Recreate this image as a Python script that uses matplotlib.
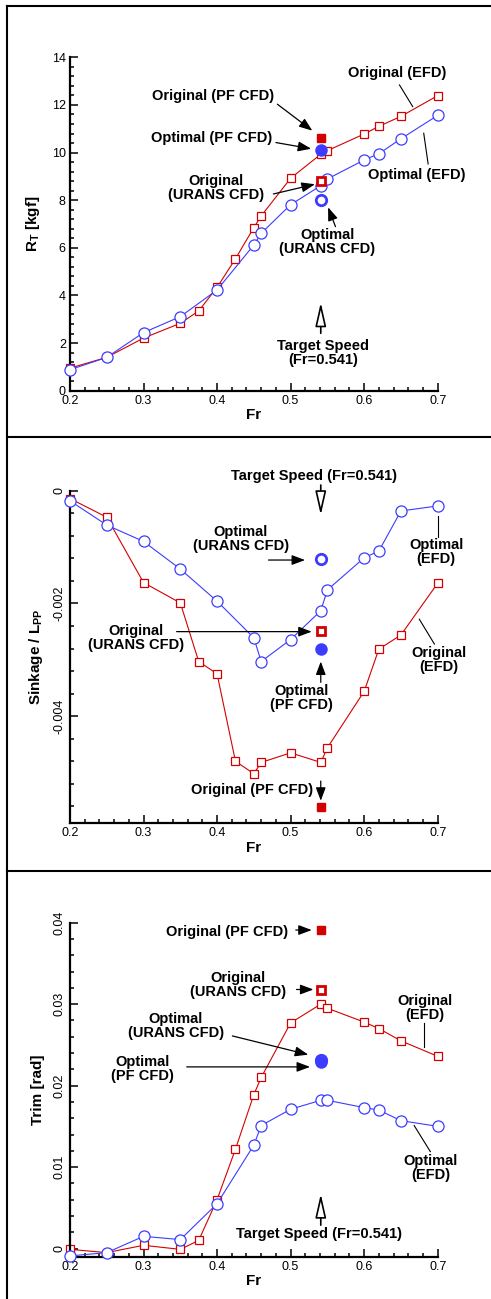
import numpy as np
import matplotlib
matplotlib.use('Agg')
from matplotlib import pyplot as plt
from matplotlib.lines import Line2D
from matplotlib.ticker import MultipleLocator, FixedLocator

plt.rcParams['font.family'] = ['Liberation Sans', 'DejaVu Sans']
plt.rcParams['mathtext.fontset'] = 'custom'
plt.rcParams['mathtext.rm'] = 'Liberation Sans'
plt.rcParams['mathtext.bf'] = 'Liberation Sans:bold'

# %% data
fr_orig = [0.2, 0.25, 0.3, 0.35, 0.375, 0.4, 0.425, 0.45, 0.46, 0.5, 0.541, 0.55, 0.6, 0.62, 0.65, 0.7]
fr_opt = [0.2, 0.25, 0.3, 0.35, 0.4, 0.45, 0.46, 0.5, 0.541, 0.55, 0.6, 0.62, 0.65, 0.7]
fr_target = 0.541

rt_orig = [0.95, 1.40, 2.21, 2.83, 3.35, 4.34, 5.54, 6.85, 7.34, 8.92, 9.93, 10.08, 10.78, 11.10, 11.52, 12.39]
rt_opt = [0.88, 1.40, 2.44, 3.11, 4.23, 6.12, 6.61, 7.81, 8.61, 8.89, 9.69, 9.95, 10.58, 11.56]
rt_cfd = {'orig_pf': 10.60, 'opt_pf': 10.11, 'orig_urans': 8.81, 'opt_urans': 7.99}

sink_orig = [-0.00014, -0.00047, -0.00163, -0.00199, -0.00303, -0.00325, -0.00480, -0.00502,
             -0.00482, -0.00465, -0.00482, -0.00456, -0.00356, -0.00281, -0.00256, -0.00164]
sink_opt = [-0.00018, -0.00061, -0.00090, -0.00139, -0.00196, -0.00261, -0.00303, -0.00264,
            -0.00213, -0.00176, -0.00119, -0.00107, -0.00036, -0.00027]
sink_cfd = {'orig_pf': -0.00561, 'opt_pf': -0.00281, 'orig_urans': -0.00249, 'opt_urans': -0.00122}

trim_orig = [-0.0001, -0.0005, 0.0004, -0.0001, 0.0010, 0.0060, 0.0122, 0.0189, 0.0210, 0.0277,
             0.0300, 0.0295, 0.0278, 0.0270, 0.0255, 0.0236]
trim_opt = [-0.0009, -0.0005, 0.0015, 0.0011, 0.0055, 0.0127, 0.0151, 0.0171, 0.0182, 0.0182,
            0.0173, 0.0170, 0.0157, 0.0150]
trim_cfd = {'orig_pf': 0.0391, 'opt_pf': 0.0229, 'orig_urans': 0.0318, 'opt_urans': 0.0232}

RED = '#d40000'
BLUE = '#3c3cff'
W, H = 491, 1299

fig = plt.figure(figsize=(W / 100, H / 100), dpi=100)


def make_ax(top_px, bot_px):
    left, right = 70, 437.7
    ax = fig.add_axes([left / W, 1 - bot_px / H, (right - left) / W, (bot_px - top_px) / H])
    for s in ['top', 'right']:
        ax.spines[s].set_visible(False)
    for s in ['left', 'bottom']:
        ax.spines[s].set_linewidth(1.6)
    ax.tick_params(which='both', direction='in', width=1.1, labelsize=9, pad=3)
    ax.tick_params(which='major', length=5.5)
    ax.tick_params(which='minor', length=3)
    ax.set_xlim(0.2, 0.7)
    ax.xaxis.set_minor_locator(MultipleLocator(0.02))
    ax.set_xticks([0.2, 0.3, 0.4, 0.5, 0.6, 0.7])
    ax.set_xticklabels(['0.2', '0.3', '0.4', '0.5', '0.6', '0.7'])
    ax.set_xlabel('Fr', fontsize=11, fontweight='bold', labelpad=1)
    return ax


def plot_series(ax, y_orig, y_opt, cfd):
    ax.plot(fr_opt, y_opt, '-o', color=BLUE, lw=0.8, ms=8, mfc='white', mec=BLUE, mew=0.9,
            clip_on=False, zorder=3)
    ax.plot(fr_orig, y_orig, '-s', color=RED, lw=0.8, ms=5.6, mfc='white', mec=RED, mew=0.9,
            clip_on=False, zorder=2)
    ax.plot([fr_target], [cfd['orig_urans']], 's', ms=6, mfc='white', mec=RED, mew=2, zorder=5, clip_on=False)
    ax.plot([fr_target], [cfd['opt_urans']], 'o', ms=7.5, mfc='none', mec=BLUE, mew=2, zorder=5, clip_on=False)
    ax.plot([fr_target], [cfd['orig_pf']], 's', ms=6.3, mfc=RED, mec=RED, zorder=5, clip_on=False)
    ax.plot([fr_target], [cfd['opt_pf']], 'o', ms=8, mfc=BLUE, mec=BLUE, zorder=5, clip_on=False)


def label(ax, s, x, y):
    ax.text(x, y, s, ha='center', va='center', fontsize=10.5, fontweight='bold',
            linespacing=1.0, clip_on=False)


def arrow(ax, tail, head):
    ax.annotate('', xy=head, xytext=tail, annotation_clip=False,
                arrowprops=dict(arrowstyle='-|>,head_length=0.8,head_width=0.3', fc='black',
                                ec='black', lw=0.9, shrinkA=0, shrinkB=0, mutation_scale=10))


def leader(ax, p0, p1):
    ax.plot([p0[0], p1[0]], [p0[1], p1[1]], color='black', lw=0.8, clip_on=False)


def hollow_arrow(ax, tail, head):
    ax.annotate('', xy=head, xytext=tail, annotation_clip=False,
                arrowprops=dict(arrowstyle='-|>,head_length=1.45,head_width=0.33', fc='white',
                                ec='black', lw=1.2, shrinkA=0, shrinkB=0, mutation_scale=10))


# %% R_T
ax1 = make_ax(57.3, 390.7)
plot_series(ax1, rt_orig, rt_opt, rt_cfd)
ax1.set_ylim(0, 14)
ax1.yaxis.set_major_locator(MultipleLocator(2))
ax1.yaxis.set_minor_locator(MultipleLocator(0.4))
ax1.set_ylabel(r'R$_\mathbf{T}$ [kgf]', fontsize=11, fontweight='bold', labelpad=7)

label(ax1, 'Original (EFD)', 0.645, 13.36)
leader(ax1, (0.648, 12.84), (0.666, 11.93))
label(ax1, 'Original (PF CFD)', 0.395, 12.38)
arrow(ax1, (0.482, 12.03), (0.5295, 10.92))
label(ax1, 'Optimal (PF CFD)', 0.392, 10.6)
arrow(ax1, (0.480, 10.42), (0.528, 10.16))
label(ax1, 'Original\n(URANS CFD)', 0.3985, 8.5)
arrow(ax1, (0.4765, 8.26), (0.533, 8.67))
label(ax1, 'Optimal (EFD)', 0.671, 9.06)
leader(ax1, (0.681, 10.81), (0.687, 9.52))
label(ax1, 'Optimal\n(URANS CFD)', 0.550, 6.26)
arrow(ax1, (0.561, 6.89), (0.551, 7.70))
hollow_arrow(ax1, (fr_target, 2.41), (fr_target, 3.7))
label(ax1, 'Target Speed\n(Fr=0.541)', 0.5445, 1.57)

# %% sinkage
ax2 = make_ax(490.7, 823.3)
plot_series(ax2, sink_orig, sink_opt, sink_cfd)
ax2.set_ylim(-0.0059, 0)
ax2.yaxis.set_major_locator(FixedLocator([0, -0.002, -0.004]))
ax2.set_yticklabels(['0', '-0.002', '-0.004'], rotation=90, va='center')
ax2.yaxis.set_minor_locator(MultipleLocator(0.0004))
ax2.set_ylabel(r'Sinkage / L$_\mathbf{PP}$', fontsize=11, fontweight='bold', labelpad=6)

label(ax2, 'Target Speed (Fr=0.541)', 0.532, 0.00026)
hollow_arrow(ax2, (fr_target, 0.0001), (fr_target, -0.00043))
label(ax2, 'Optimal\n(URANS CFD)', 0.432, -0.000855)
arrow(ax2, (0.470, -0.00123), (0.5196, -0.00123))
label(ax2, 'Optimal\n(EFD)', 0.698, -0.00108)
leader(ax2, (0.701, -0.00045), (0.701, -0.00083))
label(ax2, 'Original\n(URANS CFD)', 0.290, -0.00261)
arrow(ax2, (0.345, -0.0025), (0.5287, -0.0025))
label(ax2, 'Original\n(EFD)', 0.702, -0.00301)
leader(ax2, (0.675, -0.00228), (0.6955, -0.00272))
label(ax2, 'Optimal\n(PF CFD)', 0.515, -0.00368)
arrow(ax2, (fr_target, -0.0034), (fr_target, -0.00303))
label(ax2, 'Original (PF CFD)', 0.448, -0.00531)
arrow(ax2, (fr_target, -0.00515), (fr_target, -0.0055))

# %% trim
ax3 = make_ax(922.7, 1256.7)
plot_series(ax3, trim_orig, trim_opt, trim_cfd)
ax3.set_ylim(-0.001, 0.04)
ax3.yaxis.set_major_locator(FixedLocator([0, 0.01, 0.02, 0.03, 0.04]))
ax3.set_yticklabels(['0', '0.01', '0.02', '0.03', '0.04'], rotation=90, va='center')
ax3.yaxis.set_minor_locator(MultipleLocator(0.002))
ax3.set_ylabel('Trim [rad]', fontsize=11, fontweight='bold', labelpad=6)

label(ax3, 'Original (PF CFD)', 0.413, 0.03885)
arrow(ax3, (0.507, 0.0391), (0.5287, 0.0391))
label(ax3, 'Original\n(URANS CFD)', 0.429, 0.0323)
arrow(ax3, (0.508, 0.0318), (0.531, 0.0318))
label(ax3, 'Original\n(EFD)', 0.683, 0.0295)
leader(ax3, (0.681, 0.0277), (0.681, 0.0247))
label(ax3, 'Optimal\n(URANS CFD)', 0.344, 0.0273)
arrow(ax3, (0.4208, 0.0261), (0.524, 0.0238))
label(ax3, 'Optimal\n(PF CFD)', 0.299, 0.0221)
arrow(ax3, (0.3587, 0.0223), (0.5264, 0.0223))
label(ax3, 'Optimal\n(EFD)', 0.690, 0.00984)
leader(ax3, (0.668, 0.0151), (0.690, 0.0119))
hollow_arrow(ax3, (fr_target, 0.00287), (fr_target, 0.0067))
label(ax3, 'Target Speed (Fr=0.541)', 0.539, 0.00176)

# %% panel frames
fig.add_artist(Line2D([6.5 / W, 6.5 / W], [0, 1 - 6 / H], color='black', lw=1.5))
for ypx in [6, 437.5, 870.5]:
    fig.add_artist(Line2D([6.5 / W, 1], [1 - ypx / H, 1 - ypx / H], color='black', lw=1.5))

fig.savefig('out.png', dpi=100)
